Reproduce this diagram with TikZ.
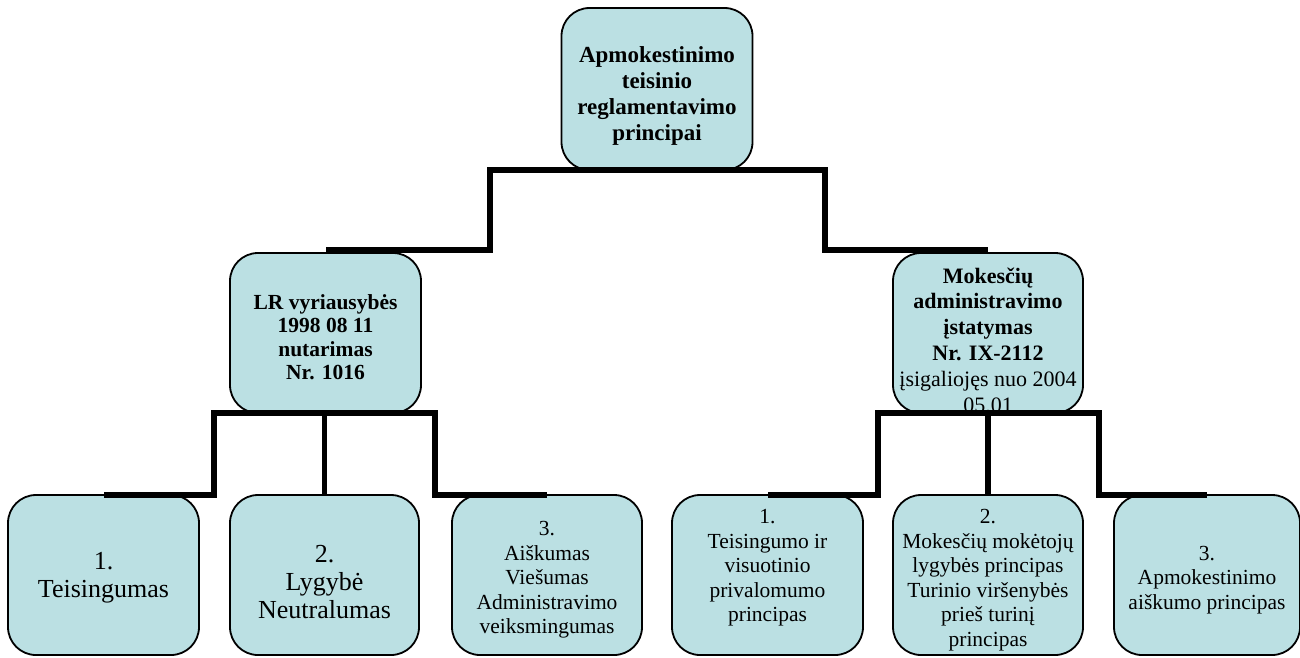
\documentclass[tikz,border=0pt]{standalone}
\usepackage{fontspec}
\setmainfont{Liberation Serif}
\definecolor{boxfill}{RGB}{187,224,227}
\begin{document}
\begin{tikzpicture}[x=1pt,y=-1pt,
  box/.style={draw=black, line width=1.8pt, fill=boxfill, rounded corners=28pt,
    minimum width=190pt, minimum height=160pt, inner sep=0pt, outer sep=0pt},
  conn/.style={draw=black, line width=5.5pt, line cap=butt, line join=miter},
  txt/.style={align=center, inner sep=0pt, outer sep=0pt},
  bigbold/.style={font=\bfseries\fontsize{23}{26}\selectfont},
  midbold/.style={font=\bfseries\fontsize{21.5}{23.5}\selectfont},
  bigreg/.style={font=\fontsize{26}{28}\selectfont},
  smallreg/.style={font=\fontsize{21.5}{24.5}\selectfont}
]
\useasboundingbox (0,0) rectangle (1300,657);

% boxes
\node[box, minimum width=191pt, minimum height=162pt] (top) at (657,89) {};
\node[box, minimum width=191pt] (lm) at (325.5,333) {};
\node[box] (rm) at (988,333) {};
\node[box, minimum width=191pt] (c1) at (103.5,575) {};
\node[box, minimum width=189pt] (c2) at (324.5,575) {};
\node[box] (c3) at (547,575) {};
\node[box, minimum width=191pt] (c4) at (767.5,575) {};
\node[box] (c5) at (988,575) {};
\node[box, minimum width=186pt] (c6) at (1207,575) {};

% texts
\node[txt, bigbold] (topt) at (657,96) {Apmokestinimo\\teisinio\\reglamentavimo\\principai};
\node[txt, midbold] (lmt) at (325.5,337) {LR vyriausybės\\1998 08 11\\nutarimas\\ Nr. 1016};
\begin{scope}
  \clip[rounded corners=28pt] (893,253) rectangle (1083,413);
  \node[txt, font=\fontsize{22}{25.8}\selectfont] (rmt) at (988,340)
    {\textbf{Mokesčių}\\\textbf{administravimo}\\\textbf{įstatymas}\\\textbf{Nr. IX-2112}\\įsigaliojęs nuo 2004\\05.01};
\end{scope}
\node[txt, bigreg] (c1t) at (103.5,578) {1.\\Teisingumas};
\node[txt, bigreg] (c2t) at (324.5,582) {2.\\Lygybė\\Neutralumas};
\node[txt, smallreg] (c3t) at (547,580) {3.\\Aiškumas\\Viešumas\\Administravimo\\veiksmingumas};
\node[txt, smallreg] (c4t) at (767.5,568) {1.\\Teisingumo ir\\visuotinio\\privalomumo\\principas};
\node[txt, smallreg] (c5t) at (988,580) {2.\\Mokesčių mokėtojų\\lygybės principas\\Turinio viršenybės\\prieš turinį\\principas};
\node[txt, smallreg] (c6t) at (1207,580) {3.\\Apmokestinimo\\aiškumo principas};

% connectors
\draw[conn] (top.south) -- ++(-167,0) |- ([yshift=3pt]lm.north);
\draw[conn] (top.south) -- ++(168,0) |- ([yshift=3pt]rm.north);
\draw[conn] (lm.south) -- ++(-111.5,0) |- (c1.north);
\draw[conn] (c2.north |- lm.south) -- (c2.north);
\draw[conn] (lm.south) -- ++(109.5,0) |- (c3.north);
\draw[conn] (rm.south) -- ++(-110,0) |- (c4.north);
\draw[conn] (c5.north |- rm.south) -- (c5.north);
\draw[conn] (rm.south) -- ++(111,0) |- (c6.north);
\end{tikzpicture}
\end{document}
